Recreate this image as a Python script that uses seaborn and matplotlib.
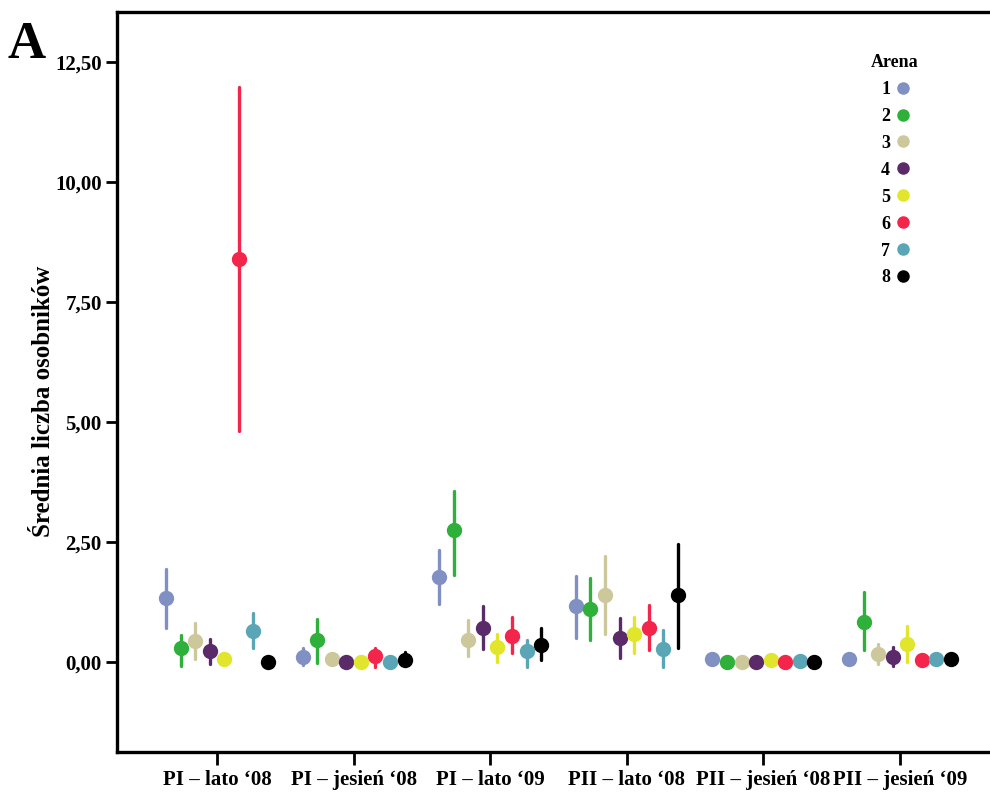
import numpy as np
import pandas as pd
import seaborn as sns
import matplotlib
matplotlib.use("Agg")
import matplotlib.pyplot as plt
from matplotlib.lines import Line2D
from matplotlib.ticker import FuncFormatter

# Sampling periods (x categories) and arenas (hue levels)
periods = ["PI – lato ‘08", "PI – jesień ‘08", "PI – lato ‘09",
           "PII – lato ‘08", "PII – jesień ‘08", "PII – jesień ‘09"]
arenas = ["1", "2", "3", "4", "5", "6", "7", "8"]

# Mean number of individuals per period (rows) and arena (columns)
means = [
    [1.34, 0.29, 0.44, 0.23, 0.06, 8.39, 0.65, 0.01],
    [0.11, 0.46, 0.06, 0.00, 0.00, 0.13, 0.00, 0.04],
    [1.78, 2.75, 0.46, 0.70, 0.31, 0.55, 0.23, 0.35],
    [1.17, 1.10, 1.40, 0.49, 0.58, 0.71, 0.27, 1.40],
    [0.06, 0.00, 0.00, 0.00, 0.05, 0.00, 0.02, 0.00],
    [0.06, 0.84, 0.17, 0.11, 0.37, 0.05, 0.07, 0.07],
]
# Lower and upper limits of the error bars
lower = [
    [0.71, -0.08, 0.06, -0.04, 0.06, 4.82, 0.29, 0.01],
    [-0.06, -0.03, 0.06, 0.00, 0.00, -0.10, 0.00, -0.08],
    [1.21, 1.81, 0.13, 0.28, -0.01, 0.18, -0.10, 0.04],
    [0.51, 0.46, 0.58, 0.08, 0.18, 0.26, -0.10, 0.30],
    [0.00, 0.00, 0.00, 0.00, 0.05, 0.00, 0.02, 0.00],
    [0.01, 0.24, -0.04, -0.08, 0.00, 0.05, 0.00, 0.07],
]
upper = [
    [1.93, 0.56, 0.81, 0.48, 0.06, 11.97, 1.03, 0.01],
    [0.29, 0.89, 0.06, 0.00, 0.00, 0.30, 0.00, 0.20],
    [2.33, 3.57, 0.88, 1.17, 0.58, 0.93, 0.46, 0.70],
    [1.80, 1.76, 2.21, 0.91, 0.94, 1.19, 0.67, 2.46],
    [0.12, 0.00, 0.00, 0.00, 0.05, 0.00, 0.02, 0.00],
    [0.11, 1.45, 0.38, 0.31, 0.74, 0.05, 0.15, 0.07],
]

arena_colors = ["#8190c2", "#2fb03a", "#cdc89c", "#5b2a68",
                "#e1e62c", "#f4254b", "#5ba6b6", "#000000"]

# Long table: each point is described by its lower limit, mean and upper limit;
# the median of the three is the mean and their range is the error bar.
rows = []
for i, p in enumerate(periods):
    for j, a in enumerate(arenas):
        for v in (lower[i][j], means[i][j], upper[i][j]):
            rows.append({"Okres": p, "Arena": a, "Liczba": v})
df = pd.DataFrame(rows)

sns.set_theme(style="white")
plt.rcParams["font.family"] = ["Liberation Serif", "DejaVu Serif"]
plt.rcParams["font.weight"] = "bold"
plt.rcParams["text.color"] = "black"
plt.rcParams["axes.labelcolor"] = "black"
plt.rcParams["xtick.color"] = "black"
plt.rcParams["ytick.color"] = "black"

fig = plt.figure(figsize=(9.9, 7.95), dpi=100)
ax = fig.add_axes([117 / 990, 43 / 795, 880 / 990, 740 / 795])

sns.pointplot(
    data=df, x="Okres", y="Liczba", hue="Arena",
    order=periods, hue_order=arenas, palette=arena_colors,
    estimator="median", errorbar=lambda v: (v.min(), v.max()),
    dodge=0.747, linestyle="none", marker="o", markersize=9,
    err_kws={"linewidth": 2.4}, legend=False, ax=ax,
)

ax.set_xlim(-0.732, 5.71)
ax.set_ylim(-1.875, 13.54)
ax.set_yticks([0, 2.5, 5, 7.5, 10, 12.5])
ax.yaxis.set_major_formatter(FuncFormatter(lambda v, p: f"{v:.2f}".replace(".", ",")))
ax.set_xlabel("")
ax.set_ylabel("Średnia liczba osobników", fontsize=18, fontweight="bold", color="black")
ax.yaxis.set_label_coords(-0.0705, 0.474)

for s in ax.spines.values():
    s.set_visible(True)
    s.set_color("black")
    s.set_linewidth(2.4)

ax.tick_params(axis="y", left=True, direction="out", length=8, width=2,
               labelsize=15, pad=3, colors="black")
ax.tick_params(axis="x", bottom=True, direction="out", length=9, width=2,
               labelsize=15, pad=4, colors="black")
for lab in ax.get_xticklabels() + ax.get_yticklabels():
    lab.set_fontweight("bold")

handles = [Line2D([], [], marker="o", linestyle="none", color=c, markersize=8)
           for c in arena_colors]
leg = ax.legend(handles, arenas, title="Arena", frameon=False, markerfirst=False,
                loc="upper center", bbox_to_anchor=(895 / 990, 1 - 54 / 795),
                bbox_transform=fig.transFigure, borderaxespad=0, borderpad=0,
                handlelength=0.7, handletextpad=0.35, labelspacing=0.55,
                prop={"size": 13, "weight": "bold"},
                title_fontproperties={"size": 13, "weight": "bold"},
                labelcolor="black")
leg.get_title().set_color("black")

fig.text(8 / 990, 1 - 58 / 795, "A", fontsize=38, fontweight="bold",
         va="baseline", color="black")

fig.savefig("out.png", dpi=100)
